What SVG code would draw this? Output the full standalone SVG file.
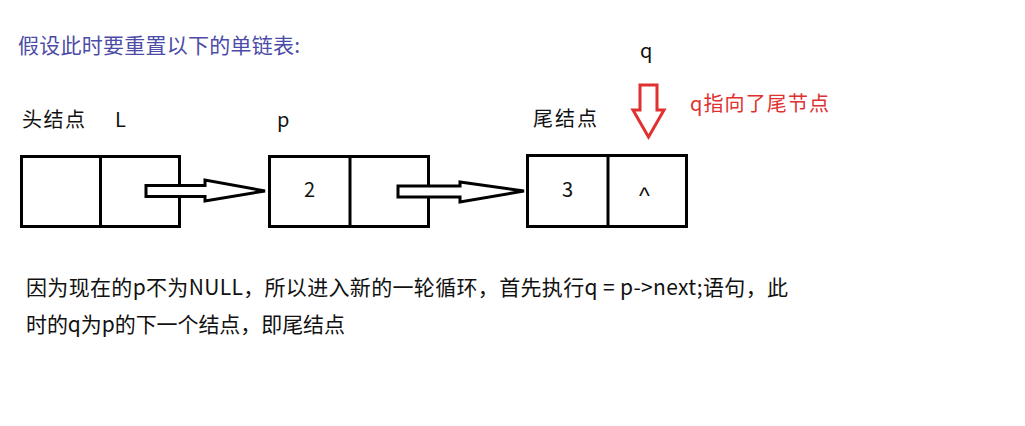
<svg xmlns="http://www.w3.org/2000/svg" width="1025" height="426" viewBox="0 0 1025 426">
<style>
text{font-family:"Noto Sans CJK SC","Noto Sans",sans-serif;font-size:20px;fill:#111}
.title{fill:#4c4ca8;font-size:21px}
.red{fill:#e0302f}
.para{font-size:21px}
.box{fill:#fff;stroke:#000;stroke-width:3}
.div{stroke:#000;stroke-width:3}
.arr{fill:#fff;stroke:#000;stroke-width:3;stroke-linejoin:miter}
.rarr{fill:#fff;stroke:#e0302f;stroke-width:3;stroke-linejoin:miter}
</style>
<rect width="1025" height="426" fill="#fff"/>
<text class="title" x="18" y="53" textLength="282">假设此时要重置以下的单链表:</text>
<g id="head">
<text x="22" y="127" textLength="63">头结点</text>
<text x="115" y="127">L</text>
<rect class="box" x="21.5" y="156.5" width="158" height="70"/>
<line class="div" x1="100.5" y1="156.5" x2="100.5" y2="226.5"/>
</g>
<g id="node2">
<text x="277" y="127">p</text>
<rect class="box" x="269.5" y="156.5" width="159" height="70"/>
<line class="div" x1="350" y1="156.5" x2="350" y2="226.5"/>
<text x="304" y="197">2</text>
</g>
<g id="tail">
<text x="533" y="126" textLength="64">尾结点</text>
<rect class="box" x="527.5" y="155.5" width="159" height="71"/>
<line class="div" x1="608" y1="155.5" x2="608" y2="226.5"/>
<text x="562" y="197">3</text>
<text x="639" y="204" style="font-family:'Liberation Sans',sans-serif;font-size:23px">^</text>
</g>
<g id="q">
<text x="640" y="58">q</text>
<text class="red" x="690" y="111" textLength="139">q指向了尾节点</text>
</g>
<g id="connectors">
<polygon class="arr" points="146,185.5 205,185.5 205,180 265,191 205,201 205,196.5 146,196.5"/>
<polygon class="arr" points="398,186 460,186 460,182 524,191 460,202 460,197 398,197"/>
<polygon class="rarr" points="640,85 657,85 657,110 664,110 648.5,137 633,110 640,110"/>
</g>
<text class="para" x="26" y="295" textLength="762">因为现在的p不为NULL，所以进入新的一轮循环，首先执行q = p-&gt;next;语句，此</text>
<text class="para" x="26" y="332" textLength="319">时的q为p的下一个结点，即尾结点</text>
</svg>
